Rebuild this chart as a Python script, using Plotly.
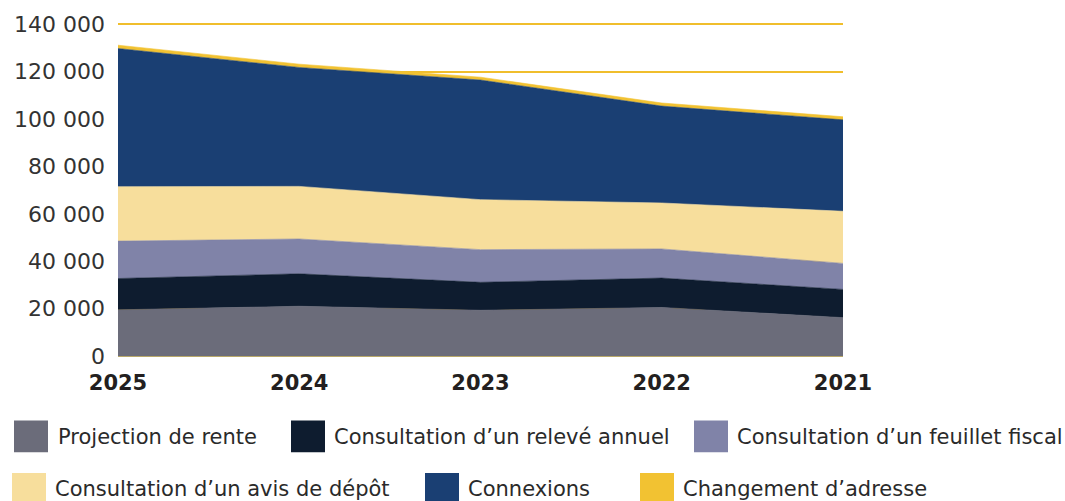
import plotly.graph_objects as go

# Years shown left to right (most recent first)
years = ["2025", "2024", "2023", "2022", "2021"]

# Annual volumes per online service
projection_rente = [19500, 21000, 19300, 20500, 16200]
releve_annuel = [13200, 13700, 11800, 12400, 11900]
feuillet_fiscal = [15800, 14700, 13800, 12300, 11000]
avis_depot = [23000, 22200, 21100, 19400, 22000]
connexions = [58300, 50200, 50500, 40900, 38600]
changement_adresse = [1400, 1400, 1200, 1300, 1300]

series_names = [
    "Projection de rente",
    "Consultation d\u2019un relevé annuel",
    "Consultation d\u2019un feuillet fiscal",
    "Consultation d\u2019un avis de dépôt",
    "Connexions",
    "Changement d\u2019adresse",
]
series_values = [projection_rente, releve_annuel, feuillet_fiscal,
                 avis_depot, connexions, changement_adresse]
series_colors = ["#6B6C7A", "#0E1C2F", "#8083A8", "#F7DE9C", "#1A3F73", "#F2C232"]

y_ticks = [0, 20000, 40000, 60000, 80000, 100000, 120000, 140000]
y_tick_text = ["0", "20 000", "40 000", "60 000", "80 000", "100 000", "120 000", "140 000"]

fig = go.Figure()
for name, vals, col in zip(series_names, series_values, series_colors):
    fig.add_trace(go.Scatter(
        x=years, y=vals, name=name, mode="lines",
        stackgroup="one", line=dict(width=0.6, color=col),
        fillcolor=col, hoverinfo="x+y+name",
    ))

# Plot area geometry in pixels (used to place the custom legend)
W, H = 1065, 501
L, R, T, B = 118, 222, 19, 145
pw, ph = W - L - R, H - T - B


def px_x(x):
    return (x - L) / pw


def px_y(y):
    return (H - B - y) / ph


legend_items = [
    (14, 421, 56, 438),
    (291, 421, 332, 438),
    (694, 421, 735, 438),
    (12, 474, 53, 490),
    (425, 474, 466, 490),
    (640, 474, 681, 490),
]
shapes = []
annotations = []
for (sx, sy, tx, ty), name, col in zip(legend_items, series_names, series_colors):
    shapes.append(dict(
        type="rect", xref="paper", yref="paper",
        x0=px_x(sx), x1=px_x(sx + 34), y0=px_y(sy), y1=px_y(sy + 32),
        fillcolor=col, line=dict(width=0),
    ))
    annotations.append(dict(
        xref="paper", yref="paper", x=px_x(tx), y=px_y(ty),
        xanchor="left", yanchor="middle", showarrow=False, text=name,
        font=dict(family="DejaVu Sans", size=21, color="#2A2A2A"),
    ))

fig.update_layout(
    width=W, height=H,
    margin=dict(l=L, r=R, t=T, b=B),
    paper_bgcolor="white", plot_bgcolor="white",
    showlegend=False,
    shapes=shapes, annotations=annotations,
    xaxis=dict(
        type="category", range=[0, 4], showgrid=False,
        showline=True, linecolor="#B8A86A", linewidth=1,
        tickfont=dict(family="DejaVu Sans", size=21, color="#231F20", weight="bold"),
        ticklabelstandoff=8, zeroline=False,
    ),
    yaxis=dict(
        range=[0, 141000], tickvals=y_ticks, ticktext=y_tick_text,
        showgrid=True, gridcolor="#F0BE2C", gridwidth=1.5, zeroline=False,
        tickfont=dict(family="DejaVu Sans", size=22, color="#333333"),
        ticklabelstandoff=12,
    ),
)

fig.write_html("out.html")
